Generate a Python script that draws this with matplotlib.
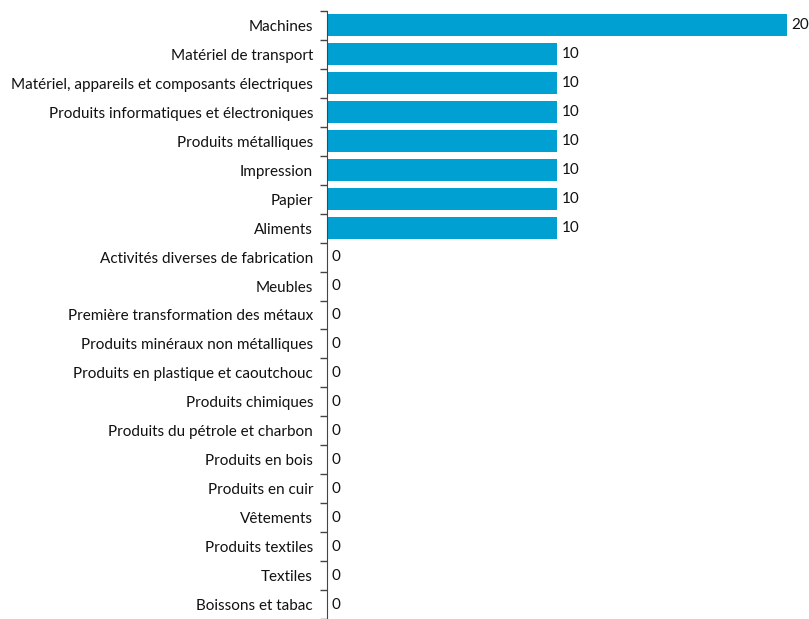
import matplotlib.pyplot as plt
import numpy as np

# Catégories (du haut vers le bas) et valeurs
categories = [
    "Machines",
    "Matériel de transport",
    "Matériel, appareils et composants électriques",
    "Produits informatiques et électroniques",
    "Produits métalliques",
    "Impression",
    "Papier",
    "Aliments",
    "Activités diverses de fabrication",
    "Meubles",
    "Première transformation des métaux",
    "Produits minéraux non métalliques",
    "Produits en plastique et caoutchouc",
    "Produits chimiques",
    "Produits du pétrole et charbon",
    "Produits en bois",
    "Produits en cuir",
    "Vêtements",
    "Produits textiles",
    "Textiles",
    "Boissons et tabac",
]
valeurs = [20, 10, 10, 10, 10, 10, 10, 10, 0, 0, 0, 0, 0, 0, 0, 0, 0, 0, 0, 0, 0]

plt.rcParams['font.family'] = ['Lato', 'DejaVu Sans']

fig = plt.figure(figsize=(8.09, 6.19), dpi=100)
ax = fig.add_axes([327 / 809, 0.0, (787 - 327) / 809, 1 - 11 / 619])

y = np.arange(len(categories))
bars = ax.barh(y, valeurs, height=0.76, color='#00A0D2')

for yi, v in zip(y, valeurs):
    ax.text(v + 0.2, yi, str(v), va='center', ha='left', fontsize=11, color='#111111')

ax.set_xlim(0, 20)
ax.set_ylim(len(categories) - 0.5, -0.5)

ax.set_yticks(y)
ax.set_yticklabels(categories, fontsize=11, color='#111111')
ax.tick_params(axis='y', which='major', length=0, pad=10)
ax.set_yticks(np.arange(-0.5, len(categories), 1), minor=True)
ax.tick_params(axis='y', which='minor', length=5, width=1, color='#444444', direction='out')

ax.set_xticks([])
for s in ['top', 'right', 'bottom']:
    ax.spines[s].set_visible(False)
ax.spines['left'].set_color('#444444')

fig.savefig('out.png', dpi=100)
